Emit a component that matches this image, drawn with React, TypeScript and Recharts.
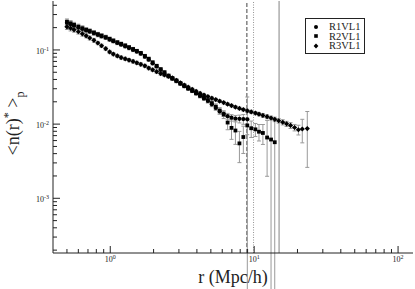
import React from 'react';
import { ScatterChart, Scatter, XAxis, YAxis, ErrorBar, ReferenceLine } from 'recharts';

// radii (Mpc/h), shared by the three samples
const radii = [
  0.5, 0.53, 0.56, 0.6, 0.64, 0.68, 0.72, 0.77, 0.82, 0.87, 0.93, 0.99, 1.05, 1.12, 1.19, 1.27,
  1.35, 1.44, 1.53, 1.63, 1.74, 1.85, 1.97, 2.1, 2.24, 2.38, 2.54, 2.7, 2.88, 3.07, 3.27, 3.48,
  3.71, 3.95, 4.21, 4.48, 4.77, 5.08, 5.41, 5.76, 6.14, 6.54, 6.96, 7.41, 7.9, 8.41, 8.96, 9.54,
  10.2, 10.8, 11.5, 12.3, 13.1, 13.9, 14.8, 15.8, 16.8, 17.9, 19.1, 20.3, 21.6, 23.4,
];

const r1vl1 = [
  0.232, 0.222, 0.212, 0.2, 0.192, 0.184, 0.177, 0.168, 0.16, 0.153, 0.146, 0.138, 0.131, 0.124,
  0.118, 0.112, 0.106, 0.1, 0.095, 0.089, 0.081, 0.074, 0.066, 0.06, 0.054, 0.049, 0.044, 0.041,
  0.038, 0.035, 0.0325, 0.03, 0.028, 0.026, 0.024, 0.0222, 0.0205, 0.0185, 0.0165, 0.0148,
  0.0138, 0.0128, 0.0122, 0.0119, 0.0118, 0.0117, 0.0116,
];
const r2vl1 = [
  0.24, 0.228, 0.218, 0.206, 0.196, 0.187, 0.18, 0.171, 0.163, 0.156, 0.149, 0.141, 0.134, 0.127,
  0.121, 0.115, 0.109, 0.103, 0.097, 0.091, 0.083, 0.076, 0.068, 0.061, 0.055, 0.05, 0.045,
  0.0415, 0.0385, 0.0355, 0.033, 0.0305, 0.0283, 0.0262, 0.0243, 0.0226, 0.021, 0.0192, 0.0172,
  0.0152, 0.0135, 0.0105, 0.0089, 0.0082, 0.0055, 0.0067, 0.0096, 0.0088, 0.0085, 0.0079,
  0.0076, 0.0066, 0.0062, 0.0057,
];
const r3vl1 = [
  0.205, 0.196, 0.187, 0.176, 0.165, 0.155, 0.145, 0.135, 0.124, 0.114, 0.104, 0.094, 0.088,
  0.083, 0.079, 0.076, 0.073, 0.07, 0.067, 0.064, 0.061, 0.057, 0.054, 0.051, 0.048, 0.046,
  0.0445, 0.042, 0.039, 0.036, 0.0335, 0.0315, 0.0295, 0.0277, 0.026, 0.0247, 0.0235, 0.0224,
  0.0214, 0.0204, 0.0195, 0.0186, 0.0178, 0.017, 0.0163, 0.0157, 0.0151, 0.0146, 0.0141,
  0.0136, 0.0131, 0.0126, 0.0121, 0.0116, 0.0111, 0.0106, 0.0101, 0.0096, 0.009, 0.0084,
  0.0086, 0.0087,
];

// relative errors (1 = bar runs off the bottom)
const r1err = [
  0.08, 0.08, 0.08, 0.07, 0.07, 0.07, 0.06, 0.06, 0.06, 0.06, 0.05, 0.05, 0.05, 0.05, 0.05, 0.05,
  0.05, 0.05, 0.05, 0.05, 0.05, 0.05, 0.05, 0.05, 0.05, 0.05, 0.05, 0.05, 0.05, 0.05, 0.05, 0.05,
  0.05, 0.05, 0.06, 0.06, 0.06, 0.07, 0.07, 0.08, 0.08, 0.09, 0.1, 0.1, 0.12, 0.15, 1.0,
];
const r2err = [
  0.09, 0.09, 0.08, 0.08, 0.08, 0.07, 0.07, 0.07, 0.06, 0.06, 0.06, 0.06, 0.05, 0.05, 0.05, 0.05,
  0.05, 0.05, 0.05, 0.05, 0.05, 0.05, 0.05, 0.05, 0.05, 0.05, 0.05, 0.05, 0.05, 0.05, 0.05, 0.05,
  0.05, 0.06, 0.06, 0.06, 0.07, 0.08, 0.09, 0.1, 0.12, 0.2, 0.3, 0.35, 0.45, 0.4, 0.25, 0.25,
  0.2, 0.25, 0.3, 0.7, 1.0, 1.0,
];
const r3err = [
  0.08, 0.08, 0.07, 0.07, 0.07, 0.06, 0.06, 0.06, 0.05, 0.05, 0.05, 0.05, 0.05, 0.05, 0.05, 0.05,
  0.05, 0.05, 0.05, 0.05, 0.05, 0.05, 0.05, 0.05, 0.05, 0.05, 0.04, 0.04, 0.04, 0.04, 0.04, 0.04,
  0.04, 0.04, 0.04, 0.04, 0.04, 0.04, 0.04, 0.04, 0.04, 0.04, 0.04, 0.04, 0.04, 0.04, 0.05, 0.05,
  0.05, 0.05, 0.06, 0.06, 0.06, 0.07, 0.07, 0.08, 0.08, 0.09, 0.1, 0.15, 0.35, 0.7,
];

// vertical markers: dashed, dotted, solid
const cutoffs = [8.9, 9.9, 14.9];

const xTicks = [0.5, 0.6, 0.7, 0.8, 0.9, 1, 2, 3, 4, 5, 6, 7, 8, 9, 10, 20, 30, 40, 50, 60, 70, 80, 90, 100];
const xMajor = [1, 10, 100];
const yTicks = [
  0.0002, 0.0003, 0.0004, 0.0005, 0.0006, 0.0007, 0.0008, 0.0009, 0.001, 0.002, 0.003, 0.004,
  0.005, 0.006, 0.007, 0.008, 0.009, 0.01, 0.02, 0.03, 0.04, 0.05, 0.06, 0.07, 0.08, 0.09, 0.1,
  0.2, 0.3, 0.4,
];
const yMajor = [0.001, 0.01, 0.1];

const X_DOMAIN = [0.4, 127];
const Y_DOMAIN = [0.000183, 0.457];

const FONT = 'Liberation Serif, Times New Roman, Times, serif';
const INK = '#222';

function rows(ys: number[], errs: number[]) {
  return ys.map((n, i) => {
    const f = errs[i];
    const lo = Math.max(n * (1 - f), 1e-7);
    return { r: radii[i], n, err: [n - lo, n * f] };
  });
}

const d1 = rows(r1vl1, r1err);
const d2 = rows(r2vl1, r2err);
const d3 = rows(r3vl1, r3err);

const exp10 = (v: number) => Math.round(Math.log10(v));

const Dot = (p: any) => <circle cx={p.cx} cy={p.cy} r={2.1} fill="#000" />;
const Sq = (p: any) => <rect x={p.cx - 1.9} y={p.cy - 1.9} width={3.8} height={3.8} fill="#000" />;
const Dia = (p: any) => (
  <polygon
    points={`${p.cx},${p.cy - 2.6} ${p.cx + 2.6},${p.cy} ${p.cx},${p.cy + 2.6} ${p.cx - 2.6},${p.cy}`}
    fill="#000"
  />
);

const BottomTick = (p: any) => {
  const v = p.payload.value;
  const major = xMajor.includes(v);
  return (
    <g>
      <line x1={p.x} x2={p.x} y1={p.y} y2={p.y - (major ? 7 : 4)} stroke={INK} />
      {major && (
        <text x={p.x} y={p.y + 9} textAnchor="middle" style={{ fontFamily: FONT }} fontSize={8} fill={INK}>
          10<tspan dy={-3} fontSize={6}>{exp10(v)}</tspan>
        </text>
      )}
    </g>
  );
};

const TopTick = (p: any) => {
  const major = xMajor.includes(p.payload.value);
  return <line x1={p.x} x2={p.x} y1={p.y} y2={p.y + (major ? 7 : 4)} stroke={INK} />;
};

const LeftTick = (p: any) => {
  const v = p.payload.value;
  const major = yMajor.includes(v);
  return (
    <g>
      <line x1={p.x} x2={p.x + (major ? 7 : 4)} y1={p.y} y2={p.y} stroke={INK} />
      {major && (
        <text x={p.x - 4} y={p.y + 4} textAnchor="end" style={{ fontFamily: FONT }} fontSize={8} fill={INK}>
          10<tspan dy={-3} fontSize={6}>{exp10(v)}</tspan>
        </text>
      )}
    </g>
  );
};

const RightTick = (p: any) => {
  const major = yMajor.includes(p.payload.value);
  return <line x1={p.x} x2={p.x - (major ? 7 : 4)} y1={p.y} y2={p.y} stroke={INK} />;
};

function LegendBox() {
  const items = [
    { name: 'R1VL1', mark: <circle cx={4} cy={4} r={2} fill="#000" /> },
    { name: 'R2VL1', mark: <rect x={2.2} y={2.2} width={3.6} height={3.6} fill="#000" /> },
    { name: 'R3VL1', mark: <polygon points="4,1.6 6.4,4 4,6.4 1.6,4" fill="#000" /> },
  ];
  return (
    <div
      style={{
        position: 'absolute',
        left: 305,
        top: 18,
        width: 60,
        height: 36,
        border: `1px solid ${INK}`,
        background: '#fff',
        fontFamily: FONT,
        fontSize: 10.5,
        color: INK,
        boxSizing: 'border-box',
        paddingTop: 3,
      }}
    >
      {items.map((it) => (
        <div key={it.name} style={{ display: 'flex', alignItems: 'center', height: 9.5, lineHeight: '9.5px' }}>
          <svg width={8} height={8} style={{ marginLeft: 6, marginRight: 9 }}>
            {it.mark}
          </svg>
          <span>{it.name}</span>
        </div>
      ))}
    </div>
  );
}

export default function App() {
  return (
    <div style={{ position: 'absolute', left: 0, top: 0, width: 415, height: 289, background: '#fff' }}>
      <ScatterChart width={415} height={289} margin={{ top: 1, right: 2, bottom: 0, left: 0 }}>
        <XAxis
          xAxisId="b"
          type="number"
          dataKey="r"
          scale="log"
          domain={X_DOMAIN}
          allowDataOverflow
          ticks={xTicks}
          interval={0}
          tickSize={0}
          tickMargin={0}
          tick={BottomTick}
          height={36}
          stroke={INK}
        />
        <XAxis
          xAxisId="t"
          orientation="top"
          type="number"
          dataKey="r"
          scale="log"
          domain={X_DOMAIN}
          allowDataOverflow
          ticks={xTicks}
          interval={0}
          tickSize={0}
          tickMargin={0}
          tick={TopTick}
          height={0}
          stroke={INK}
        />
        <YAxis
          yAxisId="l"
          type="number"
          dataKey="n"
          scale="log"
          domain={Y_DOMAIN}
          allowDataOverflow
          ticks={yTicks}
          interval={0}
          tickSize={0}
          tickMargin={0}
          tick={LeftTick}
          width={53}
          stroke={INK}
        />
        <YAxis
          yAxisId="r"
          orientation="right"
          type="number"
          dataKey="n"
          scale="log"
          domain={Y_DOMAIN}
          allowDataOverflow
          ticks={yTicks}
          interval={0}
          tickSize={0}
          tickMargin={0}
          tick={RightTick}
          width={0}
          stroke={INK}
        />
        <ReferenceLine xAxisId="b" yAxisId="l" x={cutoffs[0]} stroke="#444" strokeDasharray="4 2" />
        <ReferenceLine xAxisId="b" yAxisId="l" x={cutoffs[1]} stroke="#666" strokeWidth={0.7} strokeDasharray="1 1.5" />
        <ReferenceLine xAxisId="b" yAxisId="l" x={cutoffs[2]} stroke="#a0a0a0" strokeWidth={1.3} />
        <Scatter xAxisId="b" yAxisId="l" name="R3VL1" data={d3} shape={Dia} isAnimationActive={false}>
          <ErrorBar dataKey="err" direction="y" width={2} stroke="#999" strokeWidth={1} isAnimationActive={false} />
        </Scatter>
        <Scatter xAxisId="b" yAxisId="l" name="R2VL1" data={d2} shape={Sq} isAnimationActive={false}>
          <ErrorBar dataKey="err" direction="y" width={2} stroke="#999" strokeWidth={1} isAnimationActive={false} />
        </Scatter>
        <Scatter xAxisId="b" yAxisId="l" name="R1VL1" data={d1} shape={Dot} isAnimationActive={false}>
          <ErrorBar dataKey="err" direction="y" width={2} stroke="#999" strokeWidth={1} isAnimationActive={false} />
        </Scatter>
      </ScatterChart>
      <svg width={415} height={289} style={{ position: 'absolute', left: 0, top: 0, pointerEvents: 'none', fontFamily: FONT }}>
        <text x={233} y={283} textAnchor="middle" fontSize={18} fill={INK}>
          r (Mpc/h)
        </text>
        <text transform="translate(18.5,123.5) rotate(-90)" textAnchor="middle" fontSize={18} fill={INK}>
          {'<n(r)'}
          <tspan dy={-7} fontSize={12}>*</tspan>
          <tspan dy={7} fontSize={18}>{' >'}</tspan>
          <tspan dy={5} fontSize={12}>p</tspan>
        </text>
      </svg>
      <LegendBox />
    </div>
  );
}
